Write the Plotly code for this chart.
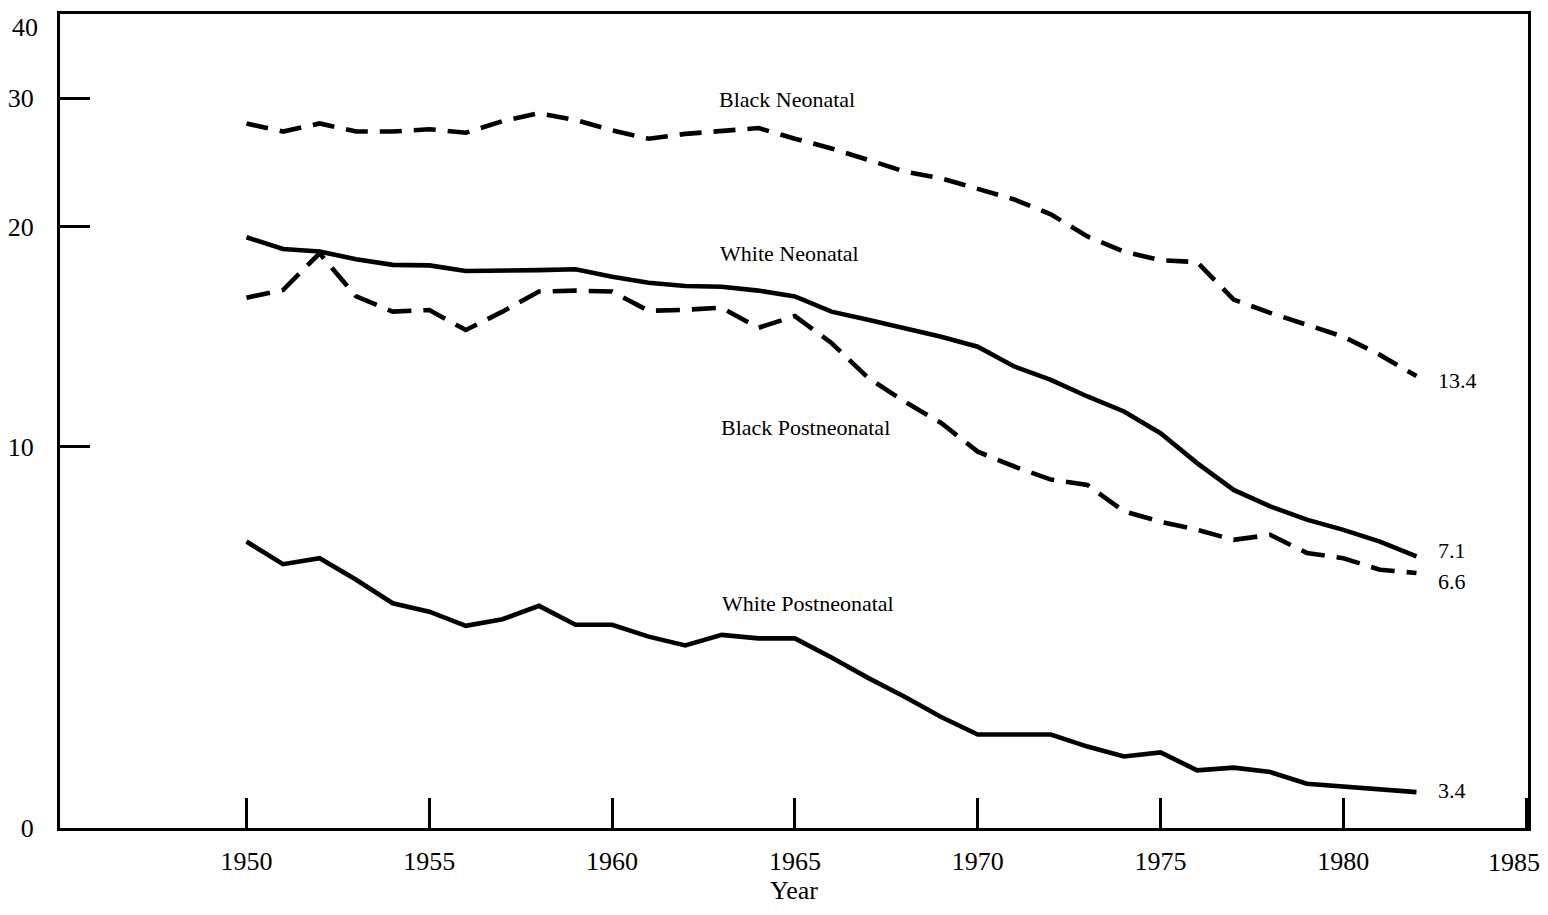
import math
import plotly.graph_objects as go

years = list(range(1950, 1983))

black_neonatal = [27.7, 27.0, 27.7, 27.0, 27.0, 27.2, 26.9, 27.9, 28.6, 28.0, 27.1, 26.4,
                  26.8, 27.0, 27.3, 26.4, 25.6, 24.7, 23.8, 23.3, 22.5, 21.8, 20.8, 19.4,
                  18.5, 18.0, 17.9, 15.9, 15.25, 14.7, 14.15, 13.36, 12.5]
white_neonatal = [19.35, 18.65, 18.5, 18.06, 17.74, 17.71, 17.40, 17.41, 17.45, 17.5, 17.09, 16.77,
                  16.6, 16.56, 16.36, 16.06, 15.31, 14.92, 14.53, 14.15, 13.71, 12.88, 12.35, 11.72,
                  11.18, 10.44, 9.50, 8.73, 8.29, 7.95, 7.70, 7.42, 7.08]
black_postneonatal = [16.0, 16.39, 18.4, 16.06, 15.31, 15.39, 14.45, 15.31, 16.31, 16.36, 16.31, 15.35,
                      15.4, 15.5, 14.55, 15.1, 13.87, 12.43, 11.53, 10.78, 9.85, 9.40, 9.02, 8.87,
                      8.16, 7.90, 7.70, 7.46, 7.58, 7.16, 7.04, 6.79, 6.72]
white_postneonatal = [7.42, 6.91, 7.04, 6.58, 6.11, 5.95, 5.69, 5.81, 6.06, 5.71, 5.71, 5.50,
                      5.35, 5.53, 5.47, 5.47, 5.15, 4.83, 4.55, 4.27, 4.04, 4.04, 4.04, 3.89,
                      3.77, 3.82, 3.61, 3.64, 3.59, 3.46, 3.43, 3.41, 3.37]

end_labels = ["13.4", "7.1", "6.6", "3.4"]
series_names = ["Black Neonatal", "White Neonatal", "Black Postneonatal", "White Postneonatal"]

x_tick_vals = [1950, 1955, 1960, 1965, 1970, 1975, 1980, 1985]
x_tick_text = ["1950", "1955", "1960", "1965", "1970", "1975", "1980", ""]
x_last_label = "1985"
y_tick_vals = [3.01, 10, 20, 30, 39.1]
y_tick_text = ["0", "10", "20", "30", ""]
y_top_label = "40"

FONT = "Liberation Serif"
LW = 4.6

fig = go.Figure()
series = [
    (black_neonatal, "22px,12px"),
    (white_neonatal, "solid"),
    (black_postneonatal, "24px,12px"),
    (white_postneonatal, "solid"),
]
for name, (vals, dash) in zip(series_names, series):
    fig.add_trace(go.Scatter(x=years, y=vals, mode="lines", name=name,
                             line=dict(color="black", width=LW, dash=dash),
                             showlegend=False))

# Series name labels (log axis: annotation y given in log10 units)
name_pos = [(1964.78, 29.9), (1964.86, 18.41), (1965.3, 10.62), (1965.36, 6.10)]
for name, (xp, yp) in zip(series_names, name_pos):
    fig.add_annotation(x=xp, y=math.log10(yp), text=name, showarrow=False,
                       font=dict(family=FONT, size=22, color="black"),
                       xanchor="center", yanchor="middle")

# End value labels
end_shift = [-4, 6, -8, 2]
for lab, vals, ys in zip(end_labels, [black_neonatal, white_neonatal, black_postneonatal, white_postneonatal], end_shift):
    fig.add_annotation(x=years[-1], y=math.log10(vals[-1]), text=lab, showarrow=False,
                       xanchor="left", yanchor="middle", xshift=20, yshift=ys,
                       font=dict(family=FONT, size=22, color="black"))

# Last x tick label kept inside the page edge
fig.add_annotation(x=x_tick_vals[-1], y=0, yref="paper", text=x_last_label, showarrow=False,
                   xanchor="right", yanchor="top", xshift=16, yshift=-18,
                   font=dict(family=FONT, size=26, color="black"))
# Top y tick label kept inside the page edge
fig.add_annotation(x=0, xref="paper", y=1, yref="paper", text=y_top_label, showarrow=False,
                   xanchor="right", yanchor="top", xshift=-20, yshift=3,
                   font=dict(family=FONT, size=26, color="black"))

fig.update_xaxes(range=[1944.9, 1985.05], tickvals=x_tick_vals, ticktext=x_tick_text,
                 ticks="inside", ticklen=30, tickwidth=2.5, tickcolor="black",
                 showline=True, linecolor="black", linewidth=3, mirror=True,
                 showgrid=False, zeroline=False, ticklabelstandoff=8,
                 ticklabeloverflow="allow", automargin=False,
                 tickfont=dict(family=FONT, size=26, color="black"),
                 title=dict(text="Year", font=dict(family=FONT, size=26, color="black"), standoff=2))

fig.update_yaxes(type="log", range=[math.log10(3.01), math.log10(39.1)],
                 tickvals=y_tick_vals, ticktext=y_tick_text,
                 ticks="inside", ticklen=30, tickwidth=2.5, tickcolor="black",
                 showline=True, linecolor="black", linewidth=3, mirror=True,
                 showgrid=False, zeroline=False, ticklabelstandoff=18,
                 ticklabeloverflow="allow", automargin=False,
                 tickfont=dict(family=FONT, size=26, color="black"))

fig.update_layout(width=1540, height=907,
                  margin=dict(l=52, r=20, t=6, b=87),
                  plot_bgcolor="white", paper_bgcolor="white")

fig.write_html("out.html")
